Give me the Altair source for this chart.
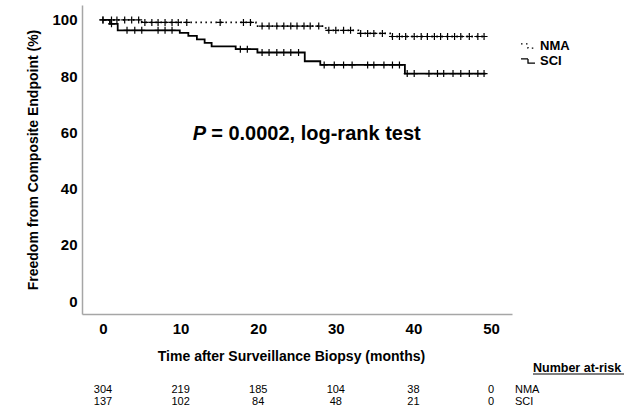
import altair as alt
import pandas as pd

# Kaplan-Meier step points (months, % event-free)
nma_t = [0, 5.0, 19.7, 28.7, 32.9, 37.0, 49.3]
nma_s = [100, 99.1, 97.8, 96.3, 95.2, 94.1, 94.1]
sci_t = [0, 0.9, 1.9, 9.9, 11.0, 12.1, 13.1, 14.0, 17.1, 19.9, 26.0, 28.0, 38.9, 49.3]
sci_s = [100, 98.6, 96.3, 95.4, 94.3, 93.1, 91.8, 90.6, 89.6, 88.4, 85.3, 84.0, 80.9, 80.9]

# censoring marks (months)
nma_cens = [0.0, 1.1, 1.8, 2.8, 3.7, 4.6, 5.4, 6.3, 7.1, 8.0, 8.9, 9.7, 10.8, 15.1,
            18.1, 19.0, 20.5, 21.4, 22.4, 23.3, 24.2, 25.0, 25.9, 26.7, 27.8, 29.1,
            30.0, 31.0, 31.9, 33.2, 34.1, 34.9, 36.0, 37.3, 38.2, 39.0, 40.1, 41.0,
            41.8, 42.7, 43.5, 44.4, 45.3, 46.1, 47.2, 48.3, 49.1]
sci_cens = [0.0, 1.1, 3.1, 4.1, 5.0, 7.1, 8.0, 8.9, 17.7, 18.6, 20.5, 21.4, 22.4,
            23.3, 24.2, 25.2, 28.5, 29.8, 31.0, 32.1, 34.1, 34.9, 36.2, 37.3, 38.2,
            39.2, 40.1, 42.0, 43.1, 43.9, 45.1, 46.1, 47.2, 48.3, 49.1]

risk_times = [0, 10, 20, 30, 40, 50]
risk_nma = [304, 219, 185, 104, 38, 0]
risk_sci = [137, 102, 84, 48, 21, 0]

groups = ["NMA", "SCI"]


def surv_at(ts, ss, t):
    v = ss[0]
    for ti, si in zip(ts, ss):
        if ti <= t:
            v = si
    return v


lines_df = pd.DataFrame(
    [{"t": t, "s": s, "g": "NMA"} for t, s in zip(nma_t, nma_s)]
    + [{"t": t, "s": s, "g": "SCI"} for t, s in zip(sci_t, sci_s)]
)
cens_df = pd.DataFrame(
    [{"t": t, "s": surv_at(nma_t, nma_s, t), "g": "NMA"} for t in nma_cens]
    + [{"t": t, "s": surv_at(sci_t, sci_s, t), "g": "SCI"} for t in sci_cens]
)
risk_df = pd.DataFrame({"t": risk_times, "nma": risk_nma, "sci": risk_sci})

FONT = "Liberation Sans"
xscale = alt.Scale(domain=[-2.7, 52.7], nice=False, zero=False)
yscale = alt.Scale(domain=[-4.6, 105.3], nice=False, zero=False)

x_enc = alt.X("t:Q", scale=xscale,
              axis=alt.Axis(values=risk_times, title="Time after Surveillance Biopsy (months)"))
y_enc = alt.Y("s:Q", scale=yscale,
              axis=alt.Axis(values=[0, 20, 40, 60, 80, 100],
                            title="Freedom from Composite Endpoint (%)"))

lines = alt.Chart(lines_df).mark_line(
    interpolate="step-after", color="black", strokeWidth=1.8
).encode(
    x=x_enc, y=y_enc,
    strokeDash=alt.StrokeDash(
        "g:N",
        scale=alt.Scale(domain=groups, range=[[1.5, 3.5], [1, 0]]),
        legend=alt.Legend(
            title=None, orient="none", legendX=438, legendY=33,
            symbolType="M-1,-0.3H0V0.3H1", symbolSize=196,
            symbolStrokeColor="black", symbolStrokeWidth=1.3,
            symbolFillColor="transparent",
            labelFont=FONT, labelFontSize=13, labelFontWeight="bold",
            labelColor="black", labelOffset=4, rowPadding=-2, padding=0,
        ),
    ),
    detail="g:N",
)

crosses = alt.Chart(cens_df).mark_point(
    shape="M-1,0H1M0,-1V1", size=49, filled=False, color="black", strokeWidth=1.2, opacity=1
).encode(x="t:Q", y="s:Q")

ann_df = pd.DataFrame({"t": [13.3], "s": [59.3]})
p_it = alt.Chart(ann_df).mark_text(
    text="P", font=FONT, fontSize=20, fontWeight="bold", fontStyle="italic",
    align="right", baseline="middle", color="black"
).encode(x="t:Q", y="s:Q")
p_rest = alt.Chart(ann_df).mark_text(
    text="= 0.0002, log-rank test", font=FONT, fontSize=20, fontWeight="bold",
    align="left", baseline="middle", dx=5, color="black"
).encode(x="t:Q", y="s:Q")

row1 = alt.Chart(risk_df).mark_text(
    font=FONT, fontSize=11, align="center", baseline="middle", color="black"
).encode(x="t:Q", y=alt.value(385), text="nma:Q")
row2 = alt.Chart(risk_df).mark_text(
    font=FONT, fontSize=11, align="center", baseline="middle", color="black"
).encode(x="t:Q", y=alt.value(397), text="sci:Q")

lab_df = pd.DataFrame({"lab": groups, "row": [385, 397]})
row_labels = alt.Chart(lab_df).mark_text(
    font=FONT, fontSize=11, align="left", baseline="middle", color="black"
).encode(x=alt.value(433), y=alt.Y("row:Q", scale=None), text="lab:N")

hdr = alt.Chart(pd.DataFrame({"lab": ["Number at-risk"]})).mark_text(
    font=FONT, fontSize=12.5, fontWeight="bold", align="left", baseline="middle", color="black"
).encode(x=alt.value(451), y=alt.value(363), text="lab:N")
underline = alt.Chart(pd.DataFrame({"lab": ["u"]})).mark_rule(
    color="black", strokeWidth=1
).encode(x=alt.value(451), x2=alt.value(542), y=alt.value(369))

chart = alt.layer(
    lines, crosses, p_it, p_rest, row1, row2, row_labels, hdr, underline
).properties(
    width=430, height=309,
    padding={"left": 82, "top": 5, "right": 113, "bottom": 94},
    autosize="none",
).configure_view(stroke=None).configure_axis(
    grid=False, ticks=False, domainColor="#a6a6a6", domainWidth=1.5,
    labelFont=FONT, labelFontSize=15, labelFontWeight="bold", labelColor="black",
    titleFont=FONT, titleFontSize=14, titleFontWeight="bold", titleColor="black",
).configure_axisX(
    labelPadding=7, titlePadding=13, titleX=209
).configure_axisY(
    labelPadding=5, titlePadding=11
)

chart.save("out.html", embed_options={"renderer": "svg", "actions": False})
